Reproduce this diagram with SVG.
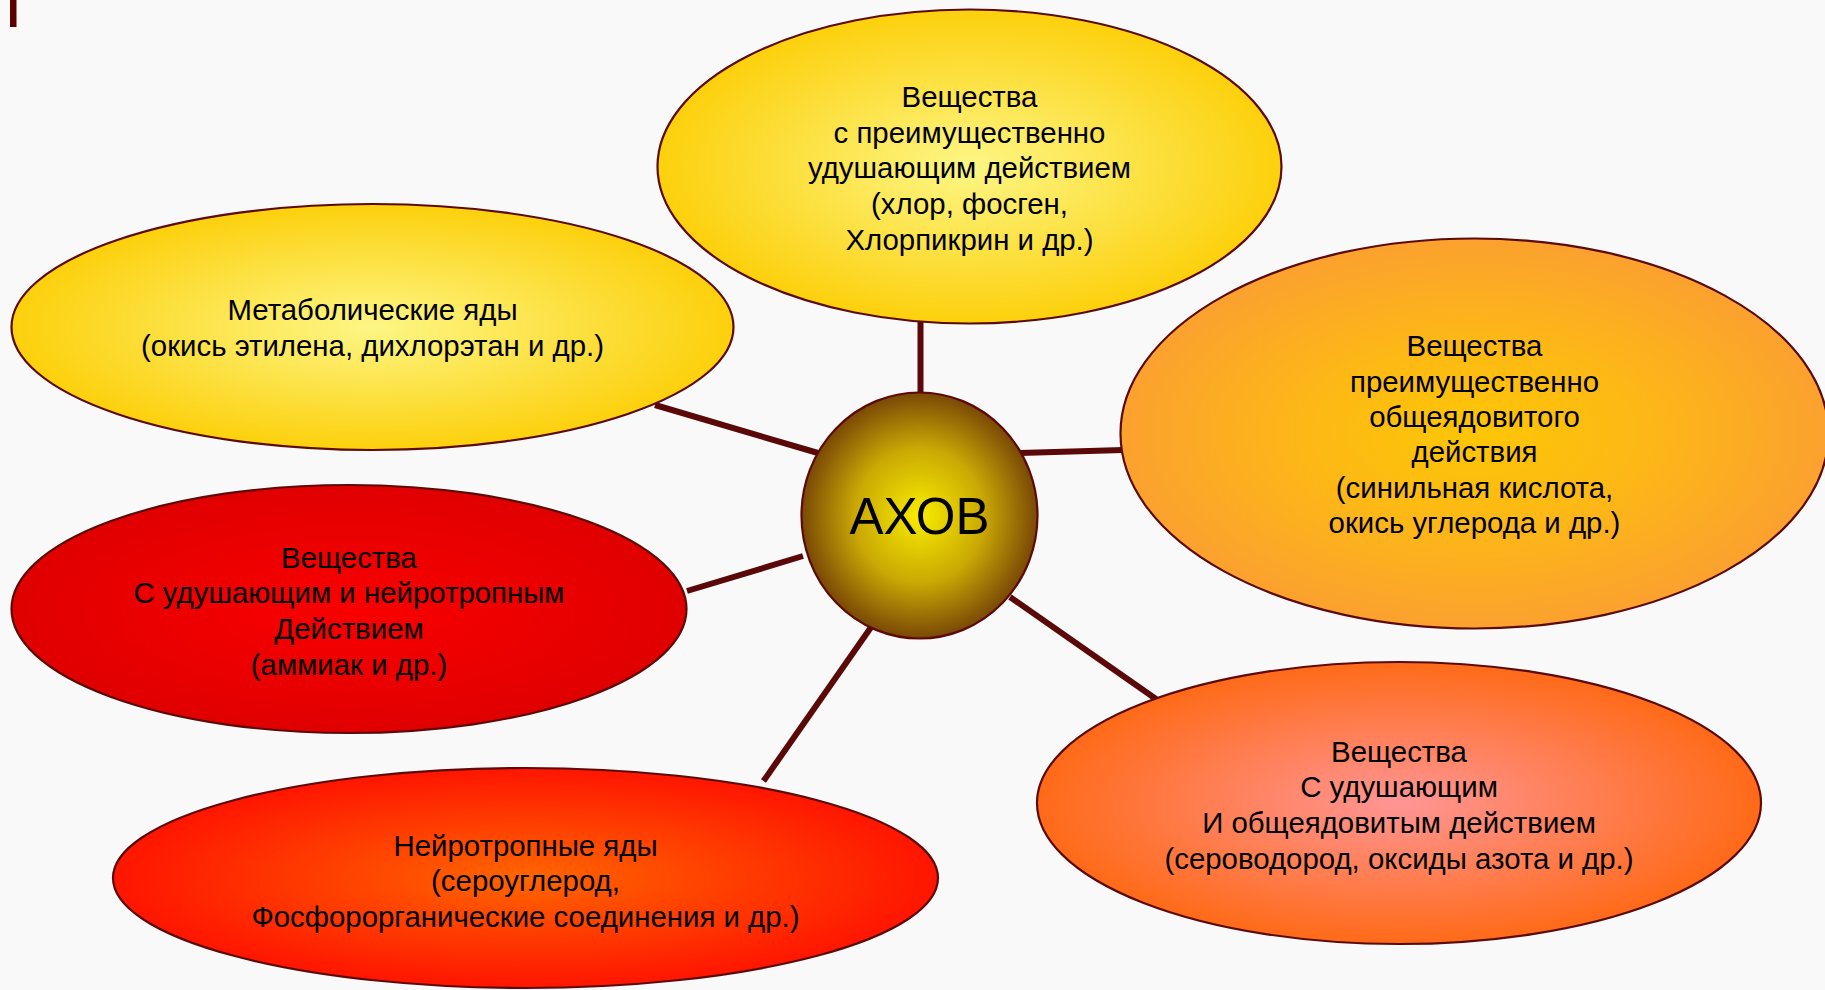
<svg xmlns="http://www.w3.org/2000/svg" width="1825" height="990" viewBox="0 0 1825 990">
<defs>
<radialGradient id="gYellow" cx="50%" cy="50%" r="50%">
<stop offset="0" stop-color="#fdf685"/>
<stop offset="1" stop-color="#fcd00c"/>
</radialGradient>
<radialGradient id="gOrange" cx="50%" cy="50%" r="50%">
<stop offset="0" stop-color="#fdc605"/>
<stop offset="0.45" stop-color="#fdb915"/>
<stop offset="1" stop-color="#fba12f"/>
</radialGradient>
<radialGradient id="gRed" cx="50%" cy="50%" r="50%">
<stop offset="0" stop-color="#fa0000"/>
<stop offset="1" stop-color="#e00000"/>
</radialGradient>
<radialGradient id="gRedOrange" cx="50%" cy="50%" r="50%">
<stop offset="0" stop-color="#ff6600"/>
<stop offset="1" stop-color="#ff1500"/>
</radialGradient>
<radialGradient id="gPink" cx="50%" cy="50%" r="50%">
<stop offset="0" stop-color="#ff9595"/>
<stop offset="1" stop-color="#ff6a18"/>
</radialGradient>
<radialGradient id="gCenter" cx="50%" cy="50%" r="50%">
<stop offset="0" stop-color="#f8ec00"/>
<stop offset="0.55" stop-color="#c9a804"/>
<stop offset="1" stop-color="#7a4806"/>
</radialGradient>
</defs>
<style>
.node ellipse { stroke: #5c0a0a; stroke-width: 2.2; }
.lbl { font-family: "Liberation Sans", Arial, sans-serif; font-size: 29.4px; fill: #000; text-anchor: middle; }
.conn line { stroke: #5a0808; stroke-width: 6; stroke-linecap: butt; }
</style>
<rect x="0" y="0" width="1825" height="990" fill="#f9f9f9"/>
<rect x="10" y="0" width="6.5" height="27" fill="#5c0000"/>

<g id="connectors" class="conn">
<line x1="920.5" y1="322" x2="920.5" y2="396"/>
<line x1="655" y1="405" x2="818" y2="453"/>
<line x1="1020" y1="453" x2="1123" y2="450"/>
<line x1="687" y1="591" x2="803" y2="556"/>
<line x1="763.5" y1="781" x2="874" y2="623"/>
<line x1="1010" y1="597" x2="1156" y2="699"/>
</g>

<g id="node-top" class="node">
<ellipse cx="969.5" cy="166.5" rx="312" ry="157" fill="url(#gYellow)"/>
<text class="lbl" x="969.5" y="107">Вещества</text>
<text class="lbl" x="969.5" y="143">с преимущественно</text>
<text class="lbl" x="969.5" y="178">удушающим действием</text>
<text class="lbl" x="969.5" y="214">(хлор, фосген,</text>
<text class="lbl" x="969.5" y="250">Хлорпикрин и др.)</text>
</g>

<g id="node-metabolic" class="node">
<ellipse cx="372.5" cy="327" rx="361" ry="123" fill="url(#gYellow)"/>
<text class="lbl" x="372.5" y="320">Метаболические яды</text>
<text class="lbl" x="372.5" y="356">(окись этилена, дихлорэтан и др.)</text>
</g>

<g id="node-general" class="node">
<ellipse cx="1474.5" cy="433.5" rx="354" ry="195" fill="url(#gOrange)"/>
<text class="lbl" x="1474.5" y="356">Вещества</text>
<text class="lbl" x="1474.5" y="392">преимущественно</text>
<text class="lbl" x="1474.5" y="427">общеядовитого</text>
<text class="lbl" x="1474.5" y="462">действия</text>
<text class="lbl" x="1474.5" y="498">(синильная кислота,</text>
<text class="lbl" x="1474.5" y="533">окись углерода и др.)</text>
</g>

<g id="node-asphyx-neuro" class="node">
<ellipse cx="349" cy="609" rx="337.5" ry="124" fill="url(#gRed)"/>
<text class="lbl" x="349" y="568">Вещества</text>
<text class="lbl" x="349" y="603">С удушающим и нейротропным</text>
<text class="lbl" x="349" y="639">Действием</text>
<text class="lbl" x="349" y="675">(аммиак и др.)</text>
</g>

<g id="node-neuro" class="node">
<ellipse cx="525.5" cy="878" rx="412.5" ry="110" fill="url(#gRedOrange)"/>
<text class="lbl" x="525.5" y="856">Нейротропные яды</text>
<text class="lbl" x="525.5" y="891">(сероуглерод,</text>
<text class="lbl" x="525.5" y="927">Фосфорорганические соединения и др.)</text>
</g>

<g id="node-asphyx-general" class="node">
<ellipse cx="1399" cy="803" rx="362" ry="141" fill="url(#gPink)"/>
<text class="lbl" x="1399" y="762">Вещества</text>
<text class="lbl" x="1399" y="797">С удушающим</text>
<text class="lbl" x="1399" y="833">И общеядовитым действием</text>
<text class="lbl" x="1399" y="869">(сероводород, оксиды азота и др.)</text>
</g>

<g id="node-center" class="node">
<ellipse cx="919.5" cy="515.5" rx="118" ry="123" fill="url(#gCenter)"/>
<text x="919.5" y="534" text-anchor="middle" font-family="'Liberation Sans', Arial, sans-serif" font-size="51" fill="#000">АХОВ</text>
</g>
</svg>
